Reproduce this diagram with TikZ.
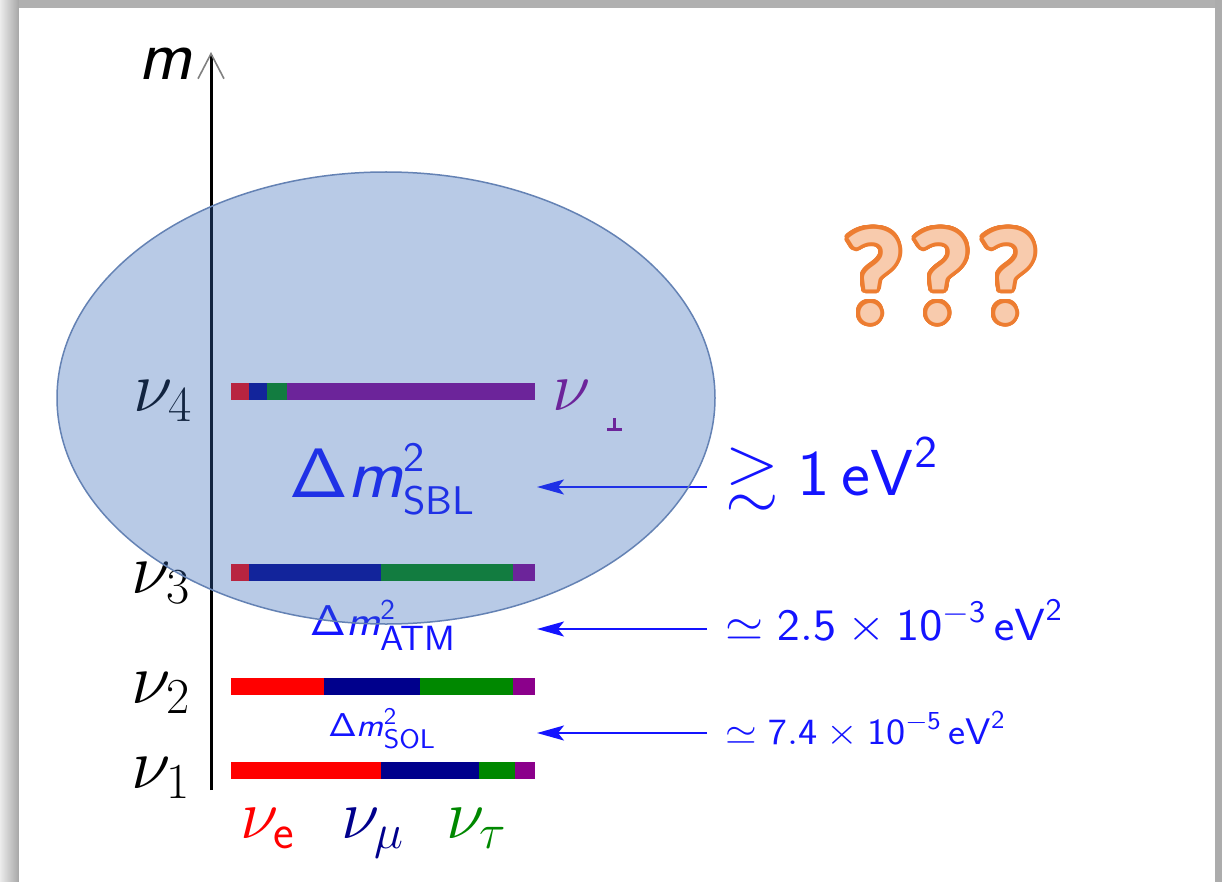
\RequirePackage{fix-cm}
\documentclass[tikz,border=0pt]{standalone}
\usepackage{amssymb}
\DeclareFontFamily{U}{msa}{}
\DeclareFontShape{U}{msa}{m}{n}{<-> msam10}{}
\usepackage[no-math]{fontspec}
\usepackage[copies]{contour}
\usetikzlibrary{arrows.meta}
\newfontfamily\qfont{Carlito}
\definecolor{nred}{RGB}{255,0,0}
\definecolor{nnavy}{RGB}{0,0,140}
\definecolor{ngreen}{RGB}{0,136,0}
\definecolor{npurp}{RGB}{139,0,139}
\definecolor{ellfill}{RGB}{52,104,184}
\definecolor{elldraw}{RGB}{100,130,180}
\definecolor{qline}{RGB}{237,125,49}
\definecolor{qfill}{RGB}{248,203,173}
\definecolor{txtblue}{RGB}{20,20,255}
\newcommand\dmsq[4]{\fontsize{#1}{#1}\selectfont$\mathsf{\Delta}\mbox{\sffamily\itshape m}^{\mbox{\fontsize{#2}{#2}\selectfont\sffamily 2}}_{\mbox{\fontsize{#3}{#3}\selectfont\sffamily #4}}$}
\newcommand\fs[1]{\fontsize{#1}{#1}\selectfont}
\contourlength{4pt}
\contournumber{48}
\tikzset{
  lab/.style={inner sep=0pt, outer sep=0pt},
  arr/.style={txtblue, line width=1.8pt, -{Stealth[length=27pt,width=15pt,inset=6pt]}},
  axis/.style={line width=3pt, -{Straight Barb[length=25pt,width=26pt,line width=1.6pt,color=gray]}},
}
\begin{document}
\begin{tikzpicture}[x=1pt,y=-1pt]
\useasboundingbox (0,0) rectangle (1222,882);
% frame shadow
\fill[left color=gray!15, right color=gray!70] (0,0) rectangle (19,882);
\fill[gray!62] (19,0) rectangle (1222,8);
\fill[gray!65] (1215,0) rectangle (1222,882);
\fill[white] (19,8) rectangle (1215,882);
% axis
\coordinate (axbot) at (211,790);
\coordinate (axtop) at (211,52);
\draw[axis] (axbot) -- (axtop);
\node[lab, anchor=base east] (mlab) at (192,80) {\fs{72}\sffamily\itshape m};
% bars
% nu4
\fill[nred] (231,383) rectangle (249,400);
\fill[nnavy] (249,383) rectangle (267,400);
\fill[ngreen] (267,383) rectangle (287,400);
\fill[npurp] (287,383) rectangle (535,400);
% nu3
\fill[nred] (231,564) rectangle (249,581);
\fill[nnavy] (249,564) rectangle (381,581);
\fill[ngreen] (381,564) rectangle (513,581);
\fill[npurp] (513,564) rectangle (535,581);
% nu2
\fill[nred] (231,678) rectangle (324,695);
\fill[nnavy] (324,678) rectangle (420,695);
\fill[ngreen] (420,678) rectangle (513,695);
\fill[npurp] (513,678) rectangle (535,695);
% nu1
\fill[nred] (231,762) rectangle (381,779);
\fill[nnavy] (381,762) rectangle (479,779);
\fill[ngreen] (479,762) rectangle (515,779);
\fill[npurp] (515,762) rectangle (535,779);
% mass labels
\node[lab, anchor=base east] (n4) at (192,411) {\fs{72}$\nu_4$};
\node[lab, anchor=base east] (n3) at (190,593) {\fs{72}$\nu_3$};
\node[lab, anchor=base east] (n2) at (190,703) {\fs{72}$\nu_2$};
\node[lab, anchor=base east] (n1) at (190,788) {\fs{72}$\nu_1$};
% flavour labels
\node[lab, anchor=base west, text=nred] (ne) at (240,838) {\fs{70}$\nu_{\mathsf{e}}$};
\node[lab, anchor=base west, text=nnavy] (nm) at (341,838) {\fs{70}$\nu_\mu$};
\node[lab, anchor=base west, text=ngreen] (nt) at (446,838) {\fs{70}$\nu_\tau$};
% sterile label
\node[lab, anchor=base west, text=npurp] (ns) at (552,410) {\fs{70}$\nu$};
\draw[npurp, line width=2.5pt] (614.5,418) -- (614.5,428);
\draw[npurp, line width=3pt] (607,429.5) -- (622,429.5);
% delta m labels
\node[lab, anchor=base, text=txtblue] (dsbl) at (382,497) {\scalebox{1.07}[1]{\dmsq{70}{42}{40}{SBL}}};
\node[lab, anchor=base, text=txtblue] (datm) at (383,635) {\scalebox{1.07}[1]{\dmsq{43}{29}{35}{ATM}}};
\node[lab, anchor=base, text=txtblue] (dsol) at (382,736) {\scalebox{1.1}[1]{\dmsq{33}{24}{27}{SOL}}};
% values
\node[lab, anchor=base west, text=txtblue] (vsbl) at (725,495) {\scalebox{1.06}[1]{\fs{65}$\gtrsim\mathsf{1}\,\mathsf{eV}^{\mathsf{2}}$}};
\node[lab, anchor=base west, text=txtblue] (vatm) at (725,640) {\scalebox{1.09}[1]{\fs{45}$\simeq\mathsf{2.5}\times\mathsf{10}^{-\mathsf{3}}\,\mathsf{eV}^{\mathsf{2}}$}};
\node[lab, anchor=base west, text=txtblue] (vsol) at (725,744) {\scalebox{1.1}[1]{\fs{37}$\simeq\mathsf{7.4}\times\mathsf{10}^{-\mathsf{5}}\,\mathsf{eV}^{\mathsf{2}}$}};
% arrows
\coordinate (s1) at (707,487); \coordinate (t1) at (537,487);
\coordinate (s2) at (707,629); \coordinate (t2) at (537,629);
\coordinate (s3) at (707,733); \coordinate (t3) at (537,733);
\draw[arr] (s1) -- (t1);
\draw[arr] (s2) -- (t2);
\draw[arr] (s3) -- (t3);
% ellipse overlay
\draw[elldraw, line width=1.5pt, fill=ellfill, fill opacity=0.35] (386,398) ellipse [x radius=329, y radius=226];
% question marks
\node[lab, anchor=base west] (qq) at (842,322) {\fs{135}\qfont\bfseries\color{qfill}\contour{qline}{?\kern5pt?\kern5pt?}};
\end{tikzpicture}
\end{document}
